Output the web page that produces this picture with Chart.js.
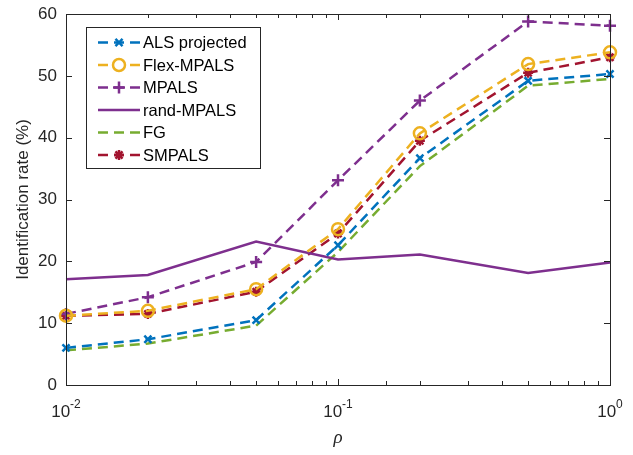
<!DOCTYPE html>
<html>
<head>
<meta charset="utf-8">
<script src="https://cdn.jsdelivr.net/npm/chart.js@4"></script>
<style>
  html, body { margin: 0; padding: 0; background: #fff; }
  #wrap { width: 633px; height: 455px; }
</style>
</head>
<body>
<div id="wrap"><canvas id="chart" width="633" height="455"></canvas></div>
<script>
// data
const rho = [0.01, 0.02, 0.05, 0.1, 0.2, 0.5, 1];
const alsProjected = [6.0, 7.4, 10.5, 22.6, 36.7, 49.2, 50.3];
const flexMpals = [11.2, 12.0, 15.5, 25.2, 40.7, 51.9, 53.8];
const mpals = [11.5, 14.2, 19.9, 33.1, 46.0, 58.8, 58.1];
const randMpals = [17.1, 17.8, 23.2, 20.3, 21.1, 18.1, 19.8];
const fg = [5.6, 6.7, 9.6, 21.5, 35.4, 48.4, 49.5];
const smpals = [11.2, 11.5, 15.1, 24.5, 39.5, 50.5, 53.0];
const xTickLabels = [["10", "-2"], ["10", "-1"], ["10", "0"]];

const axisColor = "#262626";
const dash = [10, 6];

const toPoints = (ys) => ys.map((y, i) => ({ x: rho[i], y: y }));

const mkSet = (label, ys, color, pointStyle, borderDash, radius) => ({
  label: label,
  data: toPoints(ys),
  borderColor: color,
  backgroundColor: "rgba(0,0,0,0)",
  pointBorderColor: color,
  pointBackgroundColor: pointStyle === "star" ? color : "rgba(0,0,0,0)",
  pointStyle: pointStyle || false,
  pointRadius: pointStyle ? radius : 0,
  pointBorderWidth: 2.5,
  borderWidth: 2.5,
  borderDash: borderDash,
  tension: 0,
  clip: false,
});

const datasets = [
  mkSet("ALS projected", alsProjected, "#0072BD", "crossRot", dash, 5),
  mkSet("Flex-MPALS", flexMpals, "#EDB120", "circle", dash, 6),
  mkSet("MPALS", mpals, "#7E2F8E", "cross", dash, 6),
  mkSet("rand-MPALS", randMpals, "#7E2F8E", null, [], 0),
  mkSet("FG", fg, "#77AC30", null, dash, 0),
  mkSet("SMPALS", smpals, "#A2142F", "star", dash, 5),
];

// box, inward ticks, log tick labels and the legend, MATLAB style
const frame = {
  id: "frame",
  afterDatasetsDraw(chart) {
    const { ctx, chartArea: a, scales } = chart;
    const xs = scales.x, ys = scales.y;
    ctx.save();
    ctx.strokeStyle = axisColor;
    ctx.lineWidth = 1;
    ctx.setLineDash([]);
    ctx.strokeRect(Math.round(a.left) + 0.5, Math.round(a.top) + 0.5,
      Math.round(a.right - a.left), Math.round(a.bottom - a.top));

    ctx.beginPath();
    xs.ticks.forEach((t) => {
      const px = Math.round(xs.getPixelForValue(t.value)) + 0.5;
      const major = Math.abs(Math.log10(t.value) - Math.round(Math.log10(t.value))) < 1e-9;
      const len = major ? 6 : 4;
      ctx.moveTo(px, a.bottom); ctx.lineTo(px, a.bottom - len);
      ctx.moveTo(px, a.top); ctx.lineTo(px, a.top + len);
    });
    ys.ticks.forEach((t) => {
      const py = Math.round(ys.getPixelForValue(t.value)) + 0.5;
      ctx.moveTo(a.left, py); ctx.lineTo(a.left + 6, py);
      ctx.moveTo(a.right, py); ctx.lineTo(a.right - 6, py);
    });
    ctx.stroke();

    // x tick labels 10^n
    ctx.fillStyle = axisColor;
    ctx.textBaseline = "alphabetic";
    [0.01, 0.1, 1].forEach((v, i) => {
      const px = xs.getPixelForValue(v);
      ctx.font = "17px 'Liberation Sans', Arial, sans-serif";
      const w1 = ctx.measureText(xTickLabels[i][0]).width;
      ctx.font = "12px 'Liberation Sans', Arial, sans-serif";
      const w2 = ctx.measureText(xTickLabels[i][1]).width;
      const x0 = px - (w1 + w2) / 2;
      ctx.font = "17px 'Liberation Sans', Arial, sans-serif";
      ctx.textAlign = "left";
      ctx.fillText(xTickLabels[i][0], x0, a.bottom + 32);
      ctx.font = "12px 'Liberation Sans', Arial, sans-serif";
      ctx.fillText(xTickLabels[i][1], x0 + w1, a.bottom + 23);
    });

    // legend
    const lx = a.left + 20, ly = a.top + 13, lw = 174, lh = 141;
    ctx.fillStyle = "#fff";
    ctx.fillRect(lx, ly, lw, lh);
    ctx.strokeStyle = axisColor;
    ctx.strokeRect(lx + 0.5, ly + 0.5, lw, lh);
    ctx.font = "16.5px 'Liberation Sans', Arial, sans-serif";
    ctx.textBaseline = "middle";
    chart.data.datasets.forEach((ds, i) => {
      const yy = ly + 15.5 + i * 22.5;
      ctx.strokeStyle = ds.borderColor;
      ctx.lineWidth = 2.5;
      ctx.setLineDash(ds.borderDash);
      ctx.beginPath();
      ctx.moveTo(lx + 12, yy); ctx.lineTo(lx + 54, yy);
      ctx.stroke();
      ctx.setLineDash([]);
      if (ds.pointStyle) {
        ctx.fillStyle = ds.pointBackgroundColor === ds.borderColor ? ds.borderColor : "#fff";
        Chart.helpers.drawPoint(ctx, {
          pointStyle: ds.pointStyle, radius: ds.pointRadius,
          borderWidth: 2.5, rotation: 0,
        }, lx + 33, yy);
      }
      ctx.fillStyle = "#000";
      ctx.textAlign = "left";
      ctx.fillText(ds.label, lx + 57, yy + 1);
    });
    ctx.restore();
  },
};

new Chart(document.getElementById("chart"), {
  type: "line",
  data: { datasets: datasets },
  options: {
    responsive: false,
    animation: false,
    events: [],
    layout: { padding: { top: 14, right: 23, left: 0, bottom: 0 } },
    plugins: { legend: { display: false }, tooltip: { enabled: false } },
    scales: {
      x: {
        type: "logarithmic",
        min: 0.01,
        max: 1,
        grid: { display: false, drawTicks: false },
        border: { display: false },
        ticks: { callback: () => "", autoSkip: false },
        afterFit: (s) => { s.height = 70; s.paddingLeft = 0; s.paddingRight = 0; },
        title: {
          display: true,
          text: "ρ",
          color: axisColor,
          font: { family: "'Liberation Serif', 'Times New Roman', serif", size: 19, style: "italic" },
          padding: { top: 0, bottom: 6 },
        },
      },
      y: {
        min: 0,
        max: 60,
        grid: { display: false, drawTicks: false },
        border: { display: false },
        ticks: {
          stepSize: 10,
          padding: 9,
          color: axisColor,
          font: { family: "'Liberation Sans', Arial, sans-serif", size: 17 },
        },
        afterFit: (s) => { s.width = 66; s.paddingTop = 0; s.paddingBottom = 0; },
        title: {
          display: true,
          text: "Identification rate (%)",
          color: axisColor,
          font: { family: "'Liberation Sans', Arial, sans-serif", size: 17 },
          padding: { top: 13, bottom: 4 },
        },
      },
    },
  },
  plugins: [frame],
});
</script>
</body>
</html>
